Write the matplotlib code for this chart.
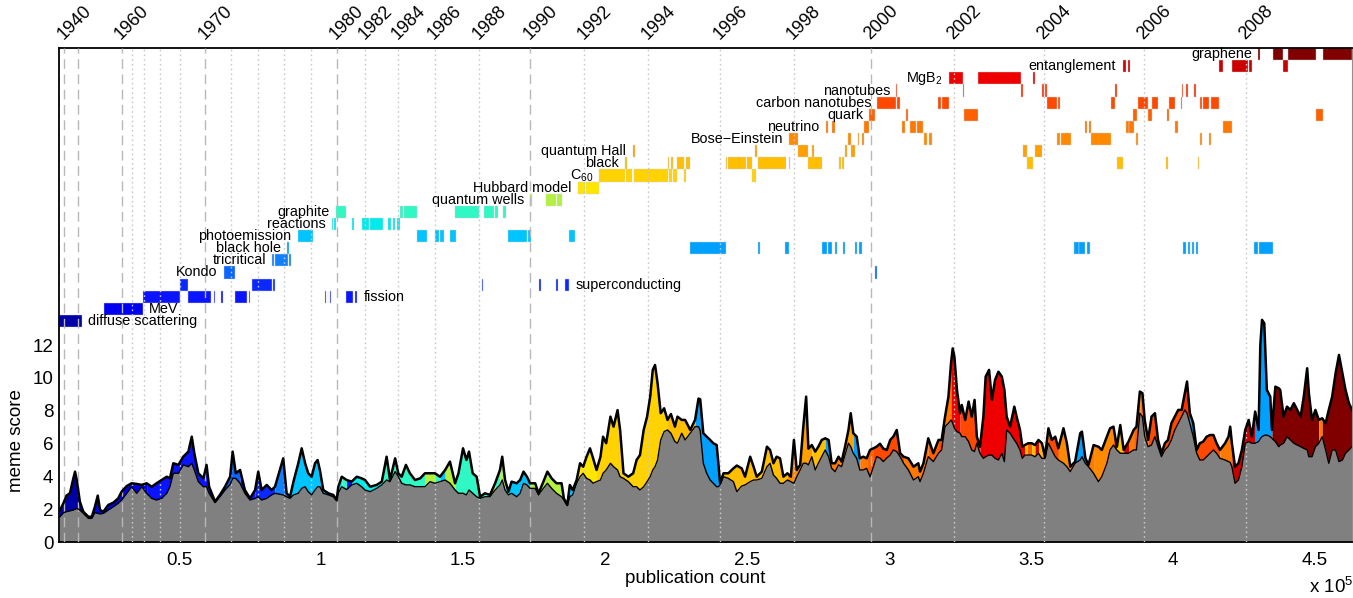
import numpy as np
import matplotlib.pyplot as plt
from matplotlib import transforms

plt.rcParams['font.family'] = ['Liberation Sans', 'DejaVu Sans']
plt.rcParams['mathtext.default'] = 'regular'

# publication count (units of 1e5) and the meme score curve
pub = [0.078, 0.081, 0.093, 0.104, 0.116, 0.128, 0.134, 0.140, 0.151, 0.163, 0.181, 0.193, 0.204, 0.214,
       0.222, 0.234, 0.251, 0.269, 0.286, 0.298, 0.316, 0.333, 0.351, 0.369, 0.386, 0.404, 0.421, 0.439,
       0.457, 0.468, 0.480, 0.498, 0.515, 0.533, 0.545, 0.554, 0.568, 0.586, 0.597, 0.606, 0.627, 0.644,
       0.662, 0.680, 0.689, 0.700, 0.715, 0.732, 0.750, 0.768, 0.779, 0.791, 0.809, 0.826,
       0.838, 0.867, 0.879, 0.891, 0.903, 0.920, 0.932, 0.944, 0.955, 0.967, 0.979, 0.988, 0.996, 1.008,
       1.026, 1.043, 1.055, 1.061, 1.073, 1.090, 1.108, 1.126, 1.143, 1.155, 1.173, 1.196, 1.214, 1.231,
       1.243, 1.261, 1.272, 1.284, 1.299, 1.313, 1.331, 1.349, 1.366, 1.384, 1.401, 1.419, 1.437, 1.454,
       1.472, 1.484, 1.500, 1.512, 1.521, 1.534, 1.548, 1.560, 1.577,
       1.595, 1.613, 1.630, 1.638, 1.648, 1.660, 1.671, 1.689, 1.701, 1.713, 1.725, 1.736, 1.754, 1.766,
       1.783, 1.797, 1.812, 1.829, 1.847, 1.855, 1.867, 1.876, 1.886, 1.900, 1.912, 1.923, 1.935, 1.947,
       1.958, 1.970, 1.984, 1.993, 2.004, 2.019, 2.030, 2.044, 2.053, 2.065, 2.082, 2.099, 2.111, 2.123,
       2.136, 2.148, 2.159, 2.168, 2.176, 2.185, 2.196, 2.208, 2.220, 2.232, 2.246, 2.255, 2.270, 2.282,
       2.300, 2.317, 2.329,
       2.335, 2.346, 2.358, 2.370, 2.381, 2.393, 2.399, 2.405, 2.417, 2.434, 2.452, 2.464, 2.481, 2.493,
       2.511, 2.523, 2.534, 2.552, 2.570, 2.581, 2.593, 2.604, 2.616, 2.628, 2.642, 2.654, 2.665, 2.675,
       2.687, 2.698, 2.708, 2.716, 2.728, 2.740, 2.751, 2.763, 2.775, 2.787, 2.798, 2.810, 2.822, 2.833,
       2.845, 2.857, 2.865, 2.874, 2.886, 2.897, 2.909, 2.921, 2.933, 2.945, 2.956, 2.968, 2.980, 2.992,
       3.004, 3.015, 3.027, 3.039, 3.051, 3.068, 3.086, 3.103,
       3.109, 3.121, 3.138, 3.156, 3.174, 3.185, 3.197, 3.209, 3.218, 3.224, 3.230, 3.239, 3.250, 3.256,
       3.268, 3.280, 3.291, 3.301, 3.309, 3.320, 3.332, 3.340, 3.352, 3.362, 3.373, 3.385, 3.397, 3.406,
       3.414, 3.426, 3.441, 3.449, 3.461, 3.469, 3.478, 3.490, 3.502, 3.514, 3.526, 3.538, 3.549, 3.561,
       3.573, 3.585, 3.596, 3.614, 3.626, 3.638, 3.655, 3.673, 3.679, 3.691, 3.702, 3.720, 3.737, 3.749,
       3.767, 3.778, 3.790, 3.802, 3.814, 3.826, 3.843, 3.861,
       3.871, 3.883, 3.892, 3.900, 3.912, 3.924, 3.936, 3.947, 3.959, 3.971, 3.982, 3.994, 4.006, 4.018,
       4.030, 4.041, 4.049, 4.059, 4.071, 4.083, 4.094, 4.106, 4.118, 4.130, 4.142, 4.153, 4.165, 4.183,
       4.195, 4.201, 4.207, 4.218, 4.230, 4.242, 4.254, 4.266, 4.277, 4.289, 4.301, 4.307, 4.313, 4.321,
       4.330, 4.342, 4.348, 4.360, 4.372, 4.377, 4.389, 4.401, 4.413, 4.425, 4.437, 4.449, 4.460, 4.472,
       4.478, 4.489, 4.501, 4.513, 4.525, 4.537, 4.548, 4.560, 4.572, 4.584, 4.596, 4.607, 4.619, 4.630]

score_top = [1.90, 1.95, 2.36, 2.83, 2.97, 3.88, 4.29, 3.78, 2.46, 1.85, 1.54, 1.54, 2.15, 2.83,
             1.95, 1.85, 2.26, 2.40, 2.66, 3.07, 3.41, 3.58, 3.54, 3.48, 3.58, 3.37, 3.58, 3.78,
             3.98, 3.88, 4.80, 4.70, 5.20, 5.51, 6.42, 5.41, 4.19, 3.88, 4.70, 3.37, 2.46, 2.87,
             3.37, 3.98, 5.51, 4.19, 4.39, 3.17, 2.66, 3.17, 4.29, 3.17, 3.48, 3.17,
             3.37, 5.10, 2.97, 2.76, 3.68, 4.80, 5.71, 4.80, 4.19, 3.98, 4.80, 5.00, 4.39, 3.17,
             2.97, 2.87, 2.56, 3.37, 3.98, 3.78, 3.68, 3.98, 3.88, 3.78, 3.37, 3.48, 3.68, 5.20,
             3.78, 5.10, 4.19, 3.98, 4.70, 4.19, 3.78, 3.88, 4.19, 4.19, 4.19, 3.98, 4.39, 4.90,
             3.58, 4.19, 5.71, 5.00, 5.51, 4.19, 3.98, 2.76, 2.97,
             2.87, 3.58, 4.39, 5.20, 3.78, 3.07, 3.68, 3.58, 3.78, 4.29, 3.98, 3.58, 3.58, 2.97,
             3.68, 4.29, 3.88, 3.58, 3.58, 2.66, 2.26, 3.48, 3.17, 3.78, 4.80, 4.59, 5.20, 5.71,
             5.10, 4.39, 5.20, 6.42, 6.02, 7.64, 7.03, 8.04, 6.83, 4.19, 3.98, 4.19, 5.00, 5.30,
             6.83, 7.64, 8.86, 10.49, 10.79, 9.67, 7.85, 8.15, 7.44, 7.80, 7.03, 7.64, 7.44, 7.44,
             6.83, 7.44, 8.74,
             8.70, 6.63, 6.42, 6.22, 6.02, 5.91, 4.80, 3.58, 4.19, 4.19, 4.49, 4.66, 4.49, 3.98,
             5.20, 4.59, 3.98, 4.29, 5.81, 5.61, 4.80, 5.20, 5.10, 3.98, 4.19, 3.98, 6.22, 4.39,
             4.70, 7.03, 8.86, 5.69, 5.91, 5.51, 5.81, 6.22, 6.32, 6.22, 4.80, 4.80, 5.20, 4.90,
             5.81, 6.83, 7.85, 6.63, 6.42, 5.10, 5.20, 5.10, 5.61, 5.71, 5.81, 5.99, 5.69, 5.61,
             6.22, 6.42, 6.83, 5.41, 5.20, 5.10, 4.59, 4.80,
             4.29, 4.80, 6.32, 5.41, 6.22, 6.22, 7.64, 8.86, 10.89, 11.80, 11.30, 9.27, 7.85, 8.35,
             7.44, 8.56, 7.64, 8.66, 6.42, 5.81, 7.64, 10.08, 10.49, 8.66, 9.87, 10.38, 10.08, 9.27,
             7.64, 7.03, 8.25, 7.64, 6.83, 5.81, 5.91, 6.02, 6.02, 5.91, 6.22, 6.02, 5.20, 6.93,
             6.22, 6.42, 5.71, 6.93, 6.02, 4.59, 4.90, 6.63, 6.73, 5.12, 4.70, 5.91, 5.81, 5.61,
             6.42, 6.93, 7.03, 5.81, 7.13, 5.61, 6.12, 6.83,
             7.03, 9.17, 9.07, 7.44, 6.22, 7.64, 7.85, 6.22, 5.41, 6.02, 6.22, 7.24, 7.64, 8.05,
             8.05, 9.07, 9.78, 7.85, 7.24, 5.61, 6.02, 6.12, 6.42, 6.52, 6.52, 6.02, 5.61, 6.02,
             6.42, 7.03, 6.02, 4.59, 4.80, 5.61, 6.83, 7.44, 6.42, 7.95, 6.83, 12.00, 13.54, 13.33,
             9.27, 8.86, 6.83, 9.47, 9.37, 9.27, 7.64, 8.25, 8.05, 8.46, 8.05, 7.64, 8.86, 10.59,
             9.07, 7.44, 8.05, 7.44, 7.54, 7.24, 8.05, 8.86, 10.28, 11.40, 10.28, 9.27, 8.46, 8.05]

score_base = [1.54, 1.54, 1.79, 1.85, 1.90, 1.95, 2.00, 2.05, 1.95, 1.75, 1.44, 1.44, 1.79, 1.75,
              1.71, 1.75, 1.95, 2.15, 2.36, 2.56, 2.97, 3.37, 2.97, 3.37, 2.97, 2.66, 2.56, 2.66,
              2.97, 3.37, 4.19, 4.19, 4.70, 4.59, 4.80, 4.39, 3.68, 3.37, 3.37, 2.97, 2.40, 2.76,
              3.17, 3.50, 3.88, 3.88, 3.58, 2.97, 2.56, 2.66, 2.76, 2.56, 2.66, 2.87,
              2.97, 2.87, 2.76, 2.66, 2.87, 2.97, 3.27, 3.37, 3.07, 2.87, 3.17, 3.37, 3.37, 2.97,
              2.87, 2.76, 2.52, 3.00, 3.37, 3.20, 3.48, 3.58, 3.37, 3.17, 3.07, 3.27, 3.48, 3.78,
              3.68, 4.29, 4.00, 3.58, 3.48, 3.48, 3.37, 3.37, 3.37, 3.68, 3.58, 3.68, 3.78, 3.58,
              3.17, 2.97, 2.97, 2.87, 3.17, 2.97, 2.76, 2.66, 2.76,
              2.76, 3.17, 3.48, 3.78, 3.17, 2.87, 2.97, 2.76, 2.97, 3.58, 3.48, 3.27, 3.27, 2.87,
              3.27, 3.58, 3.27, 2.97, 2.76, 2.56, 2.22, 2.76, 2.87, 3.58, 3.98, 4.19, 3.88, 3.78,
              3.58, 3.68, 3.78, 4.19, 4.39, 4.80, 4.59, 4.39, 3.98, 3.88, 3.68, 3.37, 3.37, 3.17,
              3.37, 3.68, 3.98, 4.39, 4.59, 5.00, 6.22, 6.73, 6.83, 6.63, 6.12, 6.02, 6.63, 6.22,
              6.63, 7.03, 7.03,
              6.80, 4.80, 4.19, 3.78, 3.58, 3.37, 3.37, 3.48, 3.98, 3.88, 3.68, 3.07, 3.41, 3.48,
              3.68, 3.78, 3.78, 3.88, 4.59, 4.80, 4.08, 3.88, 3.58, 3.58, 3.78, 3.68, 3.58, 3.98,
              4.39, 4.80, 4.80, 4.70, 5.20, 4.39, 4.80, 5.20, 5.61, 5.20, 4.49, 4.29, 4.70, 4.59,
              5.30, 6.02, 5.81, 5.41, 5.10, 4.39, 4.39, 4.49, 3.98, 4.59, 5.20, 5.12, 4.90, 5.12,
              5.30, 5.61, 5.51, 5.20, 4.80, 4.39, 3.78, 3.98,
              3.68, 4.19, 5.20, 4.90, 5.41, 5.61, 7.03, 7.24, 7.44, 7.24, 6.93, 6.73, 6.63, 6.42,
              6.42, 6.12, 5.61, 5.51, 6.02, 5.41, 5.10, 5.20, 5.30, 5.30, 5.10, 5.00, 5.41, 4.90,
              6.83, 6.63, 6.22, 6.02, 5.61, 5.10, 5.30, 5.30, 5.30, 5.20, 5.41, 5.10, 5.10, 6.02,
              5.61, 5.20, 5.00, 4.80, 4.59, 4.29, 4.80, 5.00, 5.20, 4.80, 4.59, 4.19, 3.68, 3.98,
              4.80, 5.61, 5.91, 5.61, 5.41, 5.41, 5.41, 5.61,
              5.61, 7.85, 7.64, 6.42, 5.81, 5.91, 6.42, 5.81, 5.20, 5.61, 5.81, 6.22, 6.83, 7.24,
              7.64, 8.05, 7.85, 7.24, 6.42, 5.41, 5.00, 5.00, 5.20, 5.41, 5.61, 5.41, 5.10, 5.00,
              4.90, 4.85, 4.59, 3.58, 3.78, 4.59, 6.02, 6.12, 6.02, 6.02, 6.12, 6.30, 6.42, 6.50,
              6.52, 6.42, 6.32, 6.12, 5.81, 5.91, 6.02, 6.42, 6.22, 6.02, 5.91, 5.81, 5.71, 5.61,
              5.20, 5.20, 5.81, 6.02, 6.42, 5.61, 4.80, 5.61, 5.61, 4.90, 5.00, 5.41, 5.61, 5.81]

# which meme (row index below) colours the band above the baseline
score_meme = [0, 0, 0, 0, 0, 0, 0, 0, 0, 1, 1, 1, 1, 1,
              1, 1, 1, 1, 1, 1, 1, 1, 1, 1, 2, 2, 2, 2,
              2, 2, 2, 2, 2, 2, 2, 2, 2, 2, 2, 2, 2, 2,
              4, 4, 4, 4, 2, 2, 2, 3, 3, 3, 3, 3,
              5, 5, 5, 7, 7, 7, 7, 7, 7, 7, 7, 7, 7, 7,
              7, 7, 8, 8, 9, 2, 8, 8, 8, 8, 8, 8, 9, 9,
              9, 9, 9, 9, 9, 9, 9, 9, 10, 10, 9, 7, 10, 10,
              9, 9, 9, 9, 9, 9, 9, 9, 9,
              10, 9, 10, 10, 9, 7, 7, 7, 7, 7, 7, 10, 10, 10,
              10, 10, 10, 10, 10, 10, 7, 7, 7, 11, 11, 11, 11, 11,
              11, 12, 12, 12, 12, 12, 12, 12, 12, 12, 12, 12, 12, 12,
              12, 12, 12, 12, 12, 12, 12, 12, 13, 13, 13, 13, 13, 13,
              13, 6, 6,
              6, 6, 6, 6, 6, 6, 6, 6, 13, 13, 13, 13, 13, 13,
              13, 13, 13, 13, 13, 13, 13, 13, 13, 13, 15, 15, 15, 15,
              14, 14, 14, 14, 13, 13, 13, 13, 6, 16, 16, 16, 15, 15,
              14, 14, 14, 6, 6, 16, 16, 17, 17, 18, 18, 18, 18, 18,
              18, 18, 19, 18, 16, 16, 16, 16,
              16, 16, 17, 17, 18, 18, 16, 16, 20, 20, 20, 20, 18, 18,
              18, 18, 18, 18, 18, 20, 20, 20, 20, 20, 20, 20, 20, 20,
              20, 20, 20, 20, 20, 20, 13, 17, 13, 21, 13, 16, 16, 18,
              18, 18, 15, 15, 15, 15, 6, 6, 6, 16, 16, 15, 15, 15,
              15, 15, 18, 13, 13, 21, 16, 17,
              17, 16, 16, 16, 18, 18, 18, 18, 18, 18, 18, 18, 18, 18,
              19, 19, 19, 6, 18, 18, 18, 18, 18, 18, 18, 18, 16, 16,
              16, 16, 21, 21, 21, 21, 21, 21, 21, 6, 6, 6, 6, 6,
              6, 6, 22, 22, 22, 22, 22, 22, 22, 22, 22, 22, 22, 22,
              22, 22, 22, 16, 22, 22, 22, 22, 22, 22, 22, 22, 22, 22]

# timeline rows, bottom to top
meme_labels = ['diffuse scattering', 'MeV', 'fission', 'superconducting', 'Kondo', 'tricritical',
               'black hole', 'photoemission', 'reactions', 'graphite', 'quantum wells',
               'Hubbard model', 'C$_{60}$', 'black', 'quantum Hall', 'Bose\u2212Einstein',
               'neutrino', 'quark', 'carbon nanotubes', 'nanotubes', 'MgB$_2$', 'entanglement',
               'graphene']
meme_colors = ['#0000a8', '#0000f0', '#0a14ff', '#0a28ff', '#0a64ff', '#1080ff', '#00a0ff',
               '#00c4ff', '#00ecec', '#30f8c4', '#b4f040', '#ffe600', '#ffd200', '#ffbe00',
               '#ffa000', '#ff8a00', '#ff7800', '#ff6000', '#ff4800', '#ff3000', '#ee0000',
               '#cc0000', '#800000']
labels_after = ['diffuse scattering', 'MeV', 'fission', 'superconducting']

meme_spans = [
    [(0.077, 0.158)],
    [(0.236, 0.373)],
    [(0.373, 0.504), (0.532, 0.613), (0.623, 0.627), (0.648, 0.655), (0.697, 0.739), (0.746, 0.750),
     (1.013, 1.016), (1.023, 1.026), (1.033, 1.036), (1.088, 1.113), (1.120, 1.127)],
    [(0.504, 0.532), (0.757, 0.827), (0.831, 0.838), (1.567, 1.571), (1.768, 1.774), (1.829, 1.833),
     (1.859, 1.874)],
    [(0.658, 0.697), (2.951, 2.959)],
    [(0.828, 0.834), (0.839, 0.885), (0.888, 0.893)],
    [(0.881, 0.886), (2.299, 2.425), (2.540, 2.546), (2.634, 2.646), (2.765, 2.781), (2.784, 2.800),
     (2.810, 2.816), (2.839, 2.845), (2.880, 2.888), (2.895, 2.904), (3.651, 3.667), (3.669, 3.690),
     (3.696, 3.706), (4.036, 4.046), (4.052, 4.060), (4.066, 4.074), (4.079, 4.086), (4.286, 4.300),
     (4.304, 4.351)],
    [(0.918, 0.973), (1.339, 1.372), (1.401, 1.417), (1.419, 1.433), (1.454, 1.474), (1.660, 1.724),
     (1.728, 1.738), (1.874, 1.894)],
    [(1.038, 1.043), (1.047, 1.053), (1.108, 1.117), (1.143, 1.170), (1.173, 1.219), (1.237, 1.245),
     (1.252, 1.261), (1.267, 1.278)],
    [(1.053, 1.088), (1.278, 1.288), (1.292, 1.339), (1.472, 1.557), (1.574, 1.610), (1.613, 1.624),
     (1.642, 1.650)],
    [(1.736, 1.744), (1.792, 1.827), (1.832, 1.850)],
    [(1.904, 1.930), (1.933, 1.980)],
    [(1.980, 2.070), (2.074, 2.096), (2.103, 2.221), (2.224, 2.235), (2.238, 2.255), (2.279, 2.285),
     (2.519, 2.531)],
    [(2.072, 2.076), (2.221, 2.226), (2.232, 2.238), (2.255, 2.279), (2.285, 2.299), (2.425, 2.431),
     (2.434, 2.495), (2.501, 2.519), (2.540, 2.636), (2.646, 2.651), (2.716, 2.763), (2.824, 2.830),
     (2.836, 2.842), (3.487, 3.506), (3.802, 3.822), (3.975, 3.981), (4.086, 4.091)],
    [(2.097, 2.106), (2.528, 2.534), (2.681, 2.716), (2.728, 2.736), (2.845, 2.853), (2.865, 2.880),
     (3.471, 3.485), (3.515, 3.538)],
    [(2.649, 2.681), (2.857, 2.865), (2.890, 2.895), (2.904, 2.910), (3.124, 3.135), (3.141, 3.150),
     (3.590, 3.602), (3.604, 3.641), (3.711, 3.781), (3.870, 3.876), (4.096, 4.101), (4.127, 4.133)],
    [(2.778, 2.784), (2.800, 2.810), (2.910, 2.931), (3.045, 3.056), (3.074, 3.095), (3.100, 3.121),
     (3.690, 3.696), (3.704, 3.711), (3.835, 3.843), (3.845, 3.863), (4.007, 4.016), (4.175, 4.207)],
    [(2.931, 2.951), (3.060, 3.068), (3.264, 3.314), (3.860, 3.872), (3.911, 3.925), (3.980, 3.986),
     (4.502, 4.527)],
    [(2.959, 3.025), (3.027, 3.039), (3.171, 3.182), (3.186, 3.210), (3.555, 3.590), (3.594, 3.602),
     (3.782, 3.796), (3.876, 3.911), (3.925, 3.946), (3.986, 4.007), (4.027, 4.033), (4.093, 4.101),
     (4.105, 4.128), (4.133, 4.162)],
    [(3.025, 3.029), (3.259, 3.265), (3.465, 3.471), (3.540, 3.547), (3.549, 3.555), (3.796, 3.802),
     (4.031, 4.036), (4.046, 4.054), (4.075, 4.081)],
    [(3.210, 3.259), (3.314, 3.465), (3.505, 3.514)],
    [(3.822, 3.833), (3.841, 3.849), (4.162, 4.175), (4.207, 4.262), (4.266, 4.277), (4.386, 4.406)],
    [(4.300, 4.306), (4.351, 4.386), (4.406, 4.502), (4.527, 4.630)],
]

# year markers on the top axis (position in publication count / 1e5)
years = [1940, 1950, 1960, 1962, 1964, 1966, 1968, 1970, 1972, 1974, 1976, 1978, 1980, 1982,
         1984, 1986, 1988, 1990, 1992, 1994, 1996, 1998, 2000, 2002, 2004, 2006, 2008]
year_pub = [0.095, 0.144, 0.299, 0.3345, 0.377, 0.433, 0.5035, 0.5915, 0.683, 0.778, 0.870, 0.965,
            1.056, 1.155, 1.271, 1.401, 1.556, 1.736, 1.926, 2.151, 2.405, 2.665, 2.937, 3.229,
            3.546, 3.898, 4.257]
unlabeled_years = [1950, 1962, 1964, 1966, 1968, 1972, 1974, 1976, 1978]

x_ticks = [0.5, 1, 1.5, 2, 2.5, 3, 3.5, 4, 4.5]
x_ticklabels = ['0.5', '1', '1.5', '2', '2.5', '3', '3.5', '4', '4.5']

pub = np.array(pub)
score_top = np.array(score_top)
score_base = np.array(score_base)

fig = plt.figure(figsize=(13.53, 5.98), dpi=100)
ax = fig.add_axes([0.0436, 0.0936, 0.9557, 0.826])

y_rows = 13.1
y_max = 30.1
row_h = (y_max - y_rows) / len(meme_labels)

# score area: grey baseline, coloured meme band on top
ax.fill_between(pub, 0, score_base, color='#808080', lw=0, zorder=1)
n = len(pub)
start = 0
for i in range(1, n + 1):
    if i == n or score_meme[i] != score_meme[start]:
        stop = min(i, n - 1)
        ax.fill_between(pub[start:stop + 1], score_base[start:stop + 1], score_top[start:stop + 1],
                        color=meme_colors[score_meme[start]], lw=0, zorder=2)
        start = i
ax.plot(pub, score_base, color='k', lw=1.0, zorder=4)
ax.plot(pub, score_top, color='k', lw=1.8, zorder=4)

# timeline bars
gap = 0.022
for k, spans in enumerate(meme_spans):
    y0 = y_rows + k * row_h
    ax.broken_barh([(a, b - a) for a, b in spans], (y0, row_h), facecolors=meme_colors[k],
                   edgecolors='#d0d0d0', linewidth=0.3, zorder=2)
    yc = y0 + row_h / 2
    if meme_labels[k] in labels_after:
        ax.text(spans[-1][1] + gap, yc, meme_labels[k], ha='left', va='center', fontsize=10.4, zorder=5)
    else:
        ax.text(spans[0][0] - gap, yc, meme_labels[k], ha='right', va='center', fontsize=10.4, zorder=5)

# year lines and labels
top_trans = transforms.blended_transform_factory(ax.transData, ax.transAxes)
lab_trans = transforms.offset_copy(top_trans, fig=fig, x=-10, y=5, units='dots')
for yr, xp in zip(years, year_pub):
    if yr % 10 == 0:
        ax.axvline(xp, color='#b8b8b8', ls=(0, (7, 4)), lw=1.0, zorder=3)
    else:
        ax.axvline(xp, color='#c8c8c8', ls=(0, (1.2, 2.2)), lw=1.0, zorder=3)
    if yr not in unlabeled_years:
        ax.text(xp, 1.0, str(yr), transform=lab_trans, rotation=45, ha='left', va='bottom',
                fontsize=13)

ax.set_xlim(0.0775, 4.63)
ax.set_ylim(0, y_max)
ax.set_xticks(x_ticks)
ax.set_xticklabels(x_ticklabels)
ax.set_yticks(range(0, 13, 2))
ax.tick_params(axis='both', length=0, labelsize=13.5)
ax.tick_params(axis='x', pad=7)
ax.tick_params(axis='y', pad=4)

for side in ['left', 'bottom', 'top']:
    ax.spines[side].set_linewidth(1.3)
ax.spines['right'].set_color('#909090')

ax.set_xlabel('publication count', fontsize=13.5)
ax.xaxis.set_label_coords(0.492, -0.057)
ax.set_ylabel('meme score', fontsize=13.5)
ax.yaxis.set_label_coords(-0.0265, 0.206)
ax.text(0.9667, -0.091, 'x 10$^5$', transform=ax.transAxes, ha='left', va='center', fontsize=13.5)

fig.savefig('out.png', dpi=100)
